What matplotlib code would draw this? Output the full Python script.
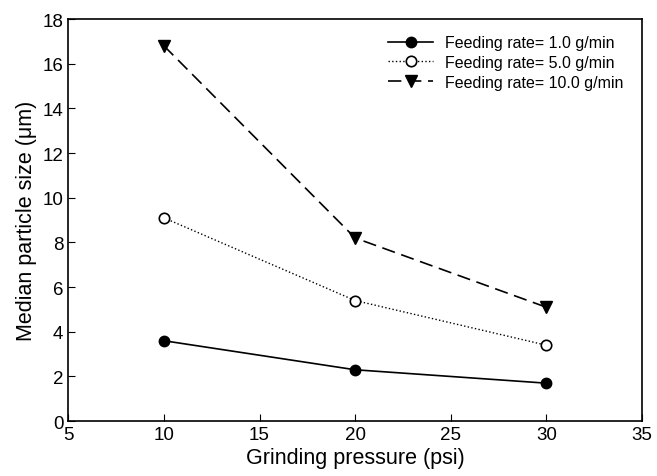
import matplotlib
matplotlib.use("Agg")
import matplotlib.pyplot as plt

plt.rcParams['font.family'] = ['Liberation Sans', 'DejaVu Sans']

pressure = [10, 20, 30]
rate_1 = [3.6, 2.3, 1.7]
rate_5 = [9.1, 5.4, 3.4]
rate_10 = [16.8, 8.2, 5.1]

fig = plt.figure(figsize=(6.57, 4.77), dpi=100)
ax = fig.add_axes([0.104, 0.115, 0.873, 0.843])

ax.plot(pressure, rate_1, color='black', lw=1.2, marker='o', ms=7.5,
        label='Feeding rate= 1.0 g/min')
ax.plot(pressure, rate_5, color='black', lw=1.0, ls=':', marker='o', ms=7.5,
        mfc='white', mec='black', mew=1.2, label='Feeding rate= 5.0 g/min')
ax.plot(pressure, rate_10, color='black', lw=1.2, ls=(0, (8, 4)), marker='v', ms=8,
        label='Feeding rate= 10.0 g/min')

ax.set_xlim(5, 35)
ax.set_ylim(0, 18)
ax.set_xticks(range(5, 36, 5))
ax.set_yticks(range(0, 19, 2))
ax.tick_params(direction='in', length=5, labelsize=13.5, top=False, right=False)
for s in ax.spines.values():
    s.set_linewidth(1.2)

ax.set_xlabel('Grinding pressure (psi)', fontsize=15.5, labelpad=3)
ax.set_ylabel('Median particle size (\u03bcm)', fontsize=15.5)

ax.legend(loc='upper left', frameon=False, fontsize=11.5, handlelength=2.8,
          handletextpad=0.75, labelspacing=0.3, borderpad=0, borderaxespad=0,
          bbox_to_anchor=(0.558, 0.96))

fig.savefig('out.png', dpi=100)
